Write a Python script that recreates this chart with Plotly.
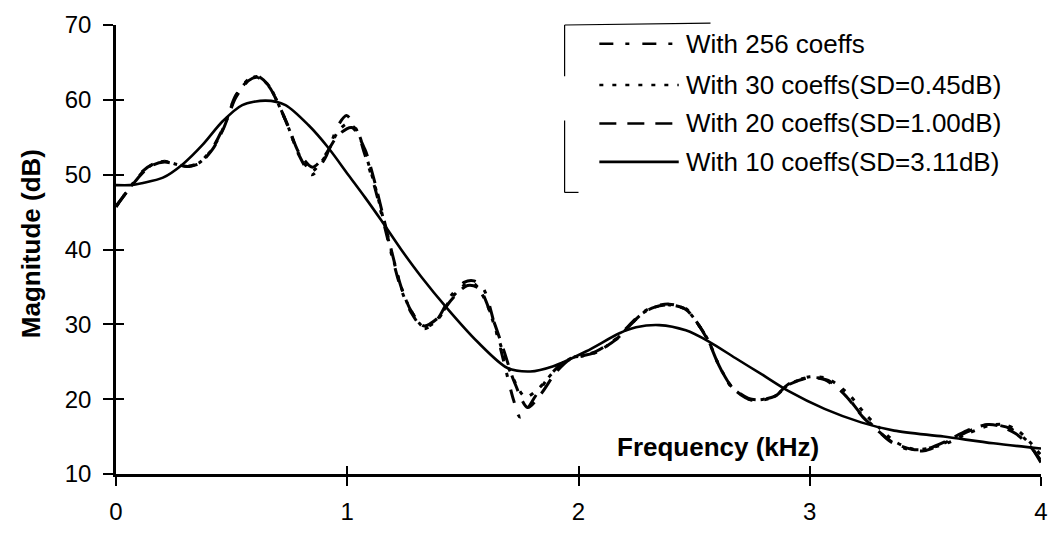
import plotly.graph_objects as go

# ---------------- data ----------------
x256 = [0, 0.06, 0.117, 0.16, 0.21, 0.26, 0.31, 0.36, 0.418, 0.468, 0.518, 0.575, 0.611, 0.661,
        0.704, 0.747, 0.79, 0.847, 0.904, 0.961, 0.997, 1.04, 1.076, 1.119, 1.155, 1.19, 1.233,
        1.276, 1.333, 1.39, 1.448, 1.505, 1.548, 1.59, 1.634, 1.677, 1.72, 1.748, 1.82, 1.891,
        1.963, 2.02, 2.077, 2.163, 2.22, 2.278, 2.33, 2.392, 2.464, 2.52, 2.564, 2.606, 2.664,
        2.735, 2.778, 2.85, 2.907, 2.993, 3.064, 3.15, 3.222, 3.279, 3.35, 3.436, 3.494, 3.579,
        3.665, 3.751, 3.794, 3.866, 3.937, 4.0]
y256 = [45.7, 48.3, 50.5, 51.4, 51.8, 51.4, 51.1, 51.6, 53.6, 56.6, 60.6, 62.8, 63.2, 61.9,
        59.3, 56.2, 52.7, 50.0, 52.2, 56.6, 57.9, 56.0, 52.7, 48.3, 43.9, 39.5, 34.7,
        31.6, 29.4, 30.7, 33.8, 35.6, 35.8, 34.7, 30.3, 25.0, 19.8, 17.6, 20.7, 23.7,
        25.5, 25.8, 26.4, 28.1, 29.9, 31.6, 32.4, 32.7, 32.1, 29.9, 27.7, 24.6, 21.5,
        20.0, 19.8, 20.4, 22.0, 22.9, 22.6, 20.7, 18.0, 16.3, 14.3, 13.2, 13.1, 14.1,
        15.4, 16.5, 16.6, 16.1, 14.5, 11.5]

x30 = [0, 0.06, 0.117, 0.16, 0.21, 0.26, 0.31, 0.36, 0.418, 0.468, 0.518, 0.575, 0.611, 0.661,
       0.704, 0.747, 0.79, 0.847, 0.904, 0.961, 1.0, 1.04, 1.076, 1.119, 1.155, 1.19, 1.233,
       1.276, 1.333, 1.39, 1.448, 1.51, 1.55, 1.6, 1.65, 1.70, 1.77, 1.83, 1.891, 1.963, 2.02,
       2.077, 2.163, 2.22, 2.278, 2.33, 2.392, 2.464, 2.52, 2.564, 2.606, 2.664, 2.735, 2.778,
       2.85, 2.907, 3.0, 3.08, 3.17, 3.24, 3.30, 3.37, 3.45, 3.51, 3.60, 3.69, 3.78, 3.84,
       3.90, 3.96, 4.0]
y30 = [45.7, 48.3, 50.4, 51.4, 51.8, 51.4, 51.1, 51.6, 53.5, 56.5, 60.5, 62.7, 63.1, 61.9,
       59.3, 56.2, 52.8, 50.5, 52.4, 55.8, 56.8, 56.0, 53.0, 48.6, 44.2, 39.8, 35.0,
       31.8, 29.6, 30.6, 33.4, 35.3, 35.4, 33.0, 28.5, 24.0, 20.3, 21.5, 23.6, 25.4, 25.8,
       26.3, 28.0, 29.8, 31.5, 32.3, 32.6, 32.0, 29.9, 27.7, 24.6, 21.6, 20.0, 19.9,
       20.4, 21.9, 23.0, 22.7, 20.6, 18.0, 16.2, 14.3, 13.3, 13.4, 14.2, 15.5, 16.5, 16.6,
       15.8, 14.0, 12.5]

x20 = [0, 0.06, 0.117, 0.16, 0.21, 0.26, 0.31, 0.36, 0.418, 0.468, 0.518, 0.575, 0.611, 0.661,
       0.704, 0.747, 0.79, 0.85, 0.904, 0.961, 1.02, 1.076, 1.119, 1.155, 1.19, 1.233, 1.276,
       1.33, 1.39, 1.448, 1.52, 1.57, 1.62, 1.677, 1.72, 1.78, 1.84, 1.9, 1.963, 2.02, 2.077,
       2.163, 2.22, 2.278, 2.33, 2.392, 2.464, 2.52, 2.564, 2.606, 2.664, 2.735, 2.78, 2.85,
       2.907, 3.0, 3.08, 3.16, 3.23, 3.29, 3.36, 3.44, 3.5, 3.59, 3.68, 3.77, 3.82, 3.89,
       3.95, 4.0]
y20 = [45.8, 48.2, 50.3, 51.3, 51.7, 51.4, 51.1, 51.5, 53.4, 56.4, 60.3, 62.6, 63.0, 61.8,
       59.3, 56.3, 53.0, 51.0, 52.6, 55.3, 56.3, 53.4, 49.0, 44.5, 40.0, 35.0, 31.8,
       29.8, 30.8, 33.2, 35.2, 34.8, 31.5, 26.5, 22.5, 18.9, 20.8, 23.5, 25.3, 25.8, 26.3,
       28.0, 29.8, 31.5, 32.3, 32.6, 32.0, 29.9, 27.6, 24.6, 21.6, 20.1, 19.9, 20.4,
       21.9, 22.9, 22.5, 20.3, 17.6, 15.9, 14.2, 13.3, 13.3, 14.4, 15.8, 16.6, 16.4, 15.4,
       13.8, 11.8]

x10 = [0, 0.06, 0.117, 0.203, 0.289, 0.375, 0.46, 0.546, 0.647, 0.733, 0.833, 0.918, 1.004,
       1.076, 1.147, 1.233, 1.319, 1.433, 1.562, 1.691, 1.791, 1.891, 2.034, 2.177, 2.249,
       2.349, 2.464, 2.564, 2.678, 2.793, 2.907, 3.064, 3.222, 3.365, 3.579, 3.794, 4.0]
y10 = [48.6, 48.6, 48.9, 49.6, 51.4, 54.0, 57.1, 59.3, 59.9, 59.3, 56.6, 53.6, 50.0,
       47.0, 43.9, 40.0, 36.4, 32.1, 27.7, 24.2, 23.7, 24.4, 26.4, 28.8, 29.6,
       29.9, 29.2, 27.7, 25.5, 23.3, 21.1, 18.7, 16.9, 15.8, 15.0, 14.1, 13.4]

series_names = ["With 256 coeffs", "With 30 coeffs(SD=0.45dB)",
                "With 20 coeffs(SD=1.00dB)", "With 10 coeffs(SD=3.11dB)"]
x_ticks = [0, 1, 2, 3, 4]
y_ticks = [10, 20, 30, 40, 50, 60, 70]
x_title = "Frequency (kHz)"
y_title = "Magnitude (dB)"

# ---------------- styles ----------------
W, H = 1056, 533
ML, MR, MT, MB = 116, 8, 25, 52
PW, PH = W - ML - MR, H - MT - MB
FONT = "Liberation Sans, Arial, sans-serif"
dashes = ["14px,12px,4px,13px", "4px,9px", "17px,11px", "solid"]
widths = [3, 3, 3, 2.6]
xs = [x256, x30, x20, x10]
ys = [y256, y30, y20, y10]

fig = go.Figure()
for i in [3, 2, 1, 0]:
    fig.add_trace(go.Scatter(x=xs[i], y=ys[i], mode="lines", name=series_names[i],
                             line=dict(color="black", width=widths[i], dash=dashes[i], shape="spline",
                                       smoothing=0.8),
                             showlegend=False, hoverinfo="skip"))
# helper trace for the overlay axes (inside half of the crossing ticks)
fig.add_trace(go.Scatter(x=[None], y=[None], xaxis="x2", yaxis="y2", showlegend=False))


def px_to_paper(px, py):
    return (px - ML) / PW, (H - MB - py) / PH


shapes = []
annotations = []
# custom legend: samples and labels
row_y = [44, 86, 125, 164]
for i, name in enumerate(series_names):
    x0, yy = px_to_paper(603, row_y[i])
    x1, _ = px_to_paper(683, row_y[i])
    shapes.append(dict(type="line", xref="paper", yref="paper", x0=x0, x1=x1, y0=yy, y1=yy,
                       line=dict(color="black", width=2.6, dash=dashes[i])))
    tx, _ = px_to_paper(688, row_y[i])
    annotations.append(dict(text=name, xref="paper", yref="paper", x=tx, y=yy, xanchor="left",
                            yanchor="middle", showarrow=False,
                            font=dict(family=FONT, size=26, color="black")))
# legend frame pieces (as in the reference: top edge and broken left edge)
for (ax, ay, bx, by) in [(568, 25, 715, 23), (568, 25, 568, 77), (568, 122, 568, 195), (568, 195, 582, 195)]:
    p0 = px_to_paper(ax, ay)
    p1 = px_to_paper(bx, by)
    shapes.append(dict(type="line", xref="paper", yref="paper", x0=p0[0], y0=p0[1], x1=p1[0], y1=p1[1],
                       line=dict(color="black", width=1.2)))

# axis titles
annotations.append(dict(text="<b>%s</b>" % x_title, x=2.605, y=13.55, xref="x", yref="y",
                        showarrow=False, xanchor="center", yanchor="middle",
                        font=dict(family=FONT, size=26, color="black")))
tx, ty = px_to_paper(30, 247)
annotations.append(dict(text="<b>%s</b>" % y_title, x=tx, y=ty, xref="paper", yref="paper",
                        showarrow=False, textangle=-90, xanchor="center", yanchor="middle",
                        font=dict(family=FONT, size=26, color="black")))

axis_common = dict(showgrid=False, zeroline=False, color="black")
fig.update_layout(
    width=W, height=H, margin=dict(l=ML, r=MR, t=MT, b=MB, pad=0),
    paper_bgcolor="white", plot_bgcolor="white",
    showlegend=False,
    font=dict(family=FONT, size=24, color="black"),
    xaxis=dict(range=[0, 4], tickvals=x_ticks, ticktext=[str(v) for v in x_ticks],
               ticks="outside", ticklen=9, tickwidth=2, tickcolor="black",
               showline=True, linecolor="black", linewidth=2.6,
               ticklabelstandoff=5, tickfont=dict(size=24, family=FONT),
               **axis_common),
    yaxis=dict(range=[10, 70], tickvals=y_ticks, ticktext=[str(v) for v in y_ticks],
               ticks="outside", ticklen=10, tickwidth=2, tickcolor="black",
               showline=True, linecolor="black", linewidth=2.6,
               ticklabelstandoff=7, tickfont=dict(size=24, family=FONT),
               **axis_common),
    xaxis2=dict(range=[0, 4], overlaying="x", anchor="y", side="bottom", tickvals=x_ticks,
                ticks="inside", ticklen=8, tickwidth=2, tickcolor="black",
                showticklabels=False, showline=False, **axis_common),
    yaxis2=dict(range=[10, 70], overlaying="y", anchor="x", side="left", tickvals=y_ticks,
                ticks="inside", ticklen=8, tickwidth=2, tickcolor="black",
                showticklabels=False, showline=False, **axis_common),
    shapes=shapes,
    annotations=annotations,
)

fig.write_html("out.html")
